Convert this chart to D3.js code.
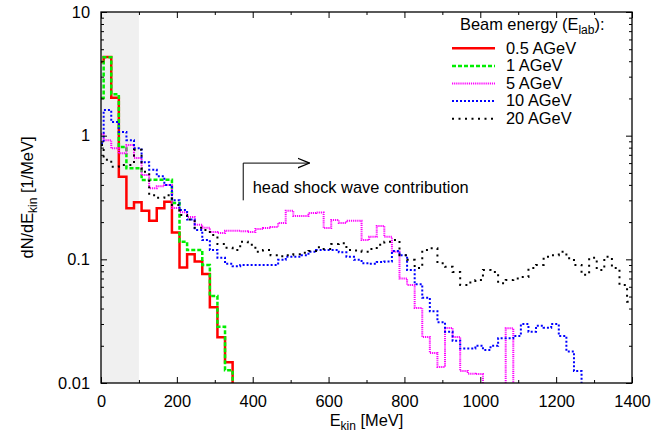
<!DOCTYPE html>
<html lang="en">
<head>
<meta charset="UTF-8">
<title>dN/dE kin spectra</title>
<script src="https://d3js.org/d3.v7.min.js"></script>
<style>
  body { margin: 0; background: #fff; }
  svg text { font-family: "Liberation Sans", Arial, Helvetica, sans-serif; font-size: 16.4px; fill: #000; }
</style>
</head>
<body>
<div id="chart"></div>
<script>
// bin edges in MeV (first bin is the clipped half bin)
const binEdges = [0, 7, 27, 47, 67, 87, 107, 127, 147, 167, 187, 207, 227, 247, 267, 287, 307, 327, 347, 367,
  387, 407, 427, 447, 467, 487, 507, 527, 547, 567, 587, 607, 627, 647, 667, 687, 707, 727, 747, 767,
  787, 807, 827, 847, 867, 887, 907, 927, 947, 967, 987, 1007, 1027, 1047, 1067, 1087, 1107, 1127, 1147, 1167,
  1187, 1207, 1227, 1247, 1267, 1287, 1307, 1327, 1347, 1367, 1387, 1407];

// dN/dE per bin, 0.001 = below the plotted range
const e05 = [3.94, 4.33, 2.03, 0.466, 0.259, 0.289, 0.247, 0.205, 0.259, 0.292, 0.165, 0.086, 0.110, 0.096, 0.076,
  0.041, 0.0234, 0.0147, 0.001];
const e1 = [2.02, 4.3, 2.16, 0.81, 0.545, 0.545, 0.438, 0.44, 0.44, 0.44, 0.285, 0.139, 0.119, 0.119, 0.090,
  0.0505, 0.0285, 0.0127, 0.001];
const e5 = [1.03, 0.92, 0.79, 0.72, 0.84, 0.66, 0.48, 0.375, 0.39, 0.40, 0.26, 0.24, 0.22, 0.19, 0.18,
  0.166, 0.163, 0.17, 0.17, 0.169, 0.166, 0.176, 0.179, 0.183, 0.197, 0.247, 0.224, 0.224, 0.237, 0.239,
  0.179, 0.208, 0.197, 0.205, 0.205, 0.143, 0.152, 0.186, 0.152, 0.115, 0.070, 0.062, 0.0404, 0.0236, 0.0175,
  0.0135, 0.0278, 0.0236, 0.0125, 0.0119, 0.0118, 0.001, 0.001, 0.001, 0.0277, 0.001];
const e10 = [0.87, 1.61, 1.29, 1.07, 0.92, 0.79, 0.61, 0.53, 0.47, 0.40, 0.30, 0.25, 0.21, 0.173, 0.143,
  0.119, 0.103, 0.092, 0.088, 0.090, 0.090, 0.090, 0.090, 0.090, 0.099, 0.105, 0.105, 0.108, 0.115, 0.119,
  0.119, 0.119, 0.114, 0.105, 0.099, 0.093, 0.092, 0.095, 0.096, 0.117, 0.108, 0.082, 0.063, 0.049, 0.038,
  0.031, 0.026, 0.022, 0.019, 0.019, 0.020, 0.0185, 0.020, 0.023, 0.023, 0.024, 0.030, 0.026, 0.029, 0.028,
  0.030, 0.024, 0.018, 0.0125, 0.001];
const e20 = [0.84, 0.64, 0.56, 0.58, 0.58, 0.77, 0.51, 0.33, 0.315, 0.33, 0.275, 0.228, 0.21, 0.18, 0.173,
  0.157, 0.133, 0.124, 0.119, 0.139, 0.131, 0.115, 0.119, 0.108, 0.106, 0.108, 0.110, 0.113, 0.117, 0.125,
  0.121, 0.133, 0.135, 0.119, 0.118, 0.115, 0.121, 0.131, 0.139, 0.143, 0.108, 0.099, 0.085, 0.119, 0.123,
  0.093, 0.087, 0.079, 0.062, 0.065, 0.068, 0.082, 0.079, 0.064, 0.068, 0.070, 0.072, 0.085, 0.090, 0.105,
  0.108, 0.115, 0.102, 0.090, 0.075, 0.103, 0.082, 0.105, 0.085, 0.062, 0.0455];

const seriesNames = ["0.5 AGeV", "1 AGeV", "5 AGeV", "10 AGeV", "20 AGeV"];
const seriesData = [e05, e1, e5, e10, e20];
const seriesColors = ["#ff0000", "#00ee00", "#ff00ff", "#0000ff", "#000000"];
const seriesDash = [null, "4,2", "1.2,0.9", "2,2", "2,4.5"];
const seriesWidth = [2.5, 2.5, 2, 2, 2];

const xTicks = [0, 200, 400, 600, 800, 1000, 1200, 1400];
const xMinor = [100, 300, 500, 700, 900, 1100, 1300];
const yTicks = [0.01, 0.1, 1, 10];
const yTickLabels = ["0.01", "0.1", "1", "10"];
const yMinor = [0.02, 0.03, 0.04, 0.05, 0.06, 0.07, 0.08, 0.09, 0.2, 0.3, 0.4, 0.5, 0.6, 0.7, 0.8, 0.9,
  2, 3, 4, 5, 6, 7, 8, 9];

const width = 667, height = 434;
const margin = { top: 12, right: 35, bottom: 51, left: 101 };
const w = width - margin.left - margin.right;
const h = height - margin.top - margin.bottom;

const svg = d3.select("#chart").append("svg")
  .attr("width", width).attr("height", height);
const g = svg.append("g").attr("transform", `translate(${margin.left},${margin.top})`);

const x = d3.scaleLinear().domain([0, 1400]).range([0, w]);
const y = d3.scaleLog().domain([0.01, 10]).range([h, 0]);

g.append("clipPath").attr("id", "clip")
  .append("rect").attr("width", w).attr("height", h);

// low energy band
g.append("rect")
  .attr("x", x(0)).attr("y", 0)
  .attr("width", x(100) - x(0)).attr("height", h)
  .attr("fill", "#f0f0f0");

// histograms
const line = d3.line()
  .x(d => x(d[0]))
  .y(d => y(d[1]))
  .curve(d3.curveStepAfter);

function stepPoints(vals) {
  const pts = vals.map((v, i) => [binEdges[i], v]);
  pts.push([binEdges[vals.length], vals[vals.length - 1]]);
  return pts;
}

const plot = g.append("g").attr("clip-path", "url(#clip)");
seriesData.forEach((vals, i) => {
  plot.append("path")
    .attr("d", line(stepPoints(vals)))
    .attr("fill", "none")
    .attr("stroke", seriesColors[i])
    .attr("stroke-width", seriesWidth[i])
    .attr("stroke-dasharray", seriesDash[i]);
});

// axes with inward ticks
function styleAxis(sel) {
  sel.select(".domain").remove();
  sel.selectAll("line").attr("stroke", "#000").attr("stroke-width", 1);
  sel.selectAll("text").style("font-size", "16.4px");
}
g.append("g").attr("transform", `translate(0,${h})`)
  .call(d3.axisBottom(x).tickValues(xTicks).tickSize(-6).tickPadding(12.5).tickFormat(d3.format("d")))
  .call(styleAxis);
g.append("g").attr("transform", `translate(0,${h})`)
  .call(d3.axisBottom(x).tickValues(xMinor).tickSize(-3).tickFormat(""))
  .call(styleAxis);
g.append("g")
  .call(d3.axisTop(x).tickValues(xTicks).tickSize(-6).tickFormat(""))
  .call(styleAxis);
g.append("g")
  .call(d3.axisTop(x).tickValues(xMinor).tickSize(-3).tickFormat(""))
  .call(styleAxis);
g.append("g")
  .call(d3.axisLeft(y).tickValues(yTicks).tickSize(-6).tickPadding(11).tickFormat((d, i) => yTickLabels[i]))
  .call(styleAxis);
g.append("g")
  .call(d3.axisLeft(y).tickValues(yMinor).tickSize(-3).tickFormat(""))
  .call(styleAxis);
g.append("g").attr("transform", `translate(${w},0)`)
  .call(d3.axisRight(y).tickValues(yTicks).tickSize(-6).tickFormat(""))
  .call(styleAxis);
g.append("g").attr("transform", `translate(${w},0)`)
  .call(d3.axisRight(y).tickValues(yMinor).tickSize(-3).tickFormat(""))
  .call(styleAxis);

// frame
g.append("rect")
  .attr("width", w).attr("height", h)
  .attr("fill", "none").attr("stroke", "#000").attr("stroke-width", 1.3);

// axis titles
const xt = svg.append("text")
  .attr("x", margin.left + w / 2).attr("y", 426)
  .attr("text-anchor", "middle");
xt.append("tspan").text("E");
xt.append("tspan").attr("dy", 4).style("font-size", "12px").text("kin");
xt.append("tspan").attr("dy", -4).text(" [MeV]");

const yt = svg.append("text")
  .attr("transform", `translate(33,${margin.top + h / 2}) rotate(-90)`)
  .attr("text-anchor", "middle");
yt.append("tspan").text("dN/dE");
yt.append("tspan").attr("dy", 4).style("font-size", "12px").text("kin");
yt.append("tspan").attr("dy", -4).text(" [1/MeV]");

// annotation arrow
svg.append("defs").append("marker")
  .attr("id", "head").attr("viewBox", "0 -5 10 10")
  .attr("refX", 10).attr("refY", 0)
  .attr("markerWidth", 12).attr("markerHeight", 12)
  .attr("markerUnits", "userSpaceOnUse")
  .attr("orient", "auto")
  .append("path").attr("d", "M0,-4L10,0L0,4")
  .attr("fill", "none").attr("stroke", "#000").attr("stroke-width", 1);

g.append("line")
  .attr("x1", x(375)).attr("x2", x(375))
  .attr("y1", y(0.3)).attr("y2", y(0.6))
  .attr("stroke", "#000").attr("stroke-width", 1);
g.append("line")
  .attr("x1", x(375)).attr("x2", x(550))
  .attr("y1", y(0.6)).attr("y2", y(0.6))
  .attr("stroke", "#000").attr("stroke-width", 1)
  .attr("marker-end", "url(#head)");
g.append("text")
  .attr("x", x(400)).attr("y", y(0.38))
  .attr("dy", "0.35em")
  .text("head shock wave contribution");

// legend
const legend = svg.append("g");
const lt = legend.append("text").attr("x", 460).attr("y", 30);
lt.append("tspan").text("Beam energy (E");
lt.append("tspan").attr("dy", 4).style("font-size", "12px").text("lab");
lt.append("tspan").attr("dy", -4).text("):");

seriesNames.forEach((name, i) => {
  const ly = 48.3 + i * 17.6;
  legend.append("line")
    .attr("x1", 452).attr("x2", 495)
    .attr("y1", ly).attr("y2", ly)
    .attr("stroke", seriesColors[i])
    .attr("stroke-width", seriesWidth[i])
    .attr("stroke-dasharray", seriesDash[i]);
  legend.append("text")
    .attr("x", 506).attr("y", ly + 5.3)
    .text(name);
});
</script>
</body>
</html>
